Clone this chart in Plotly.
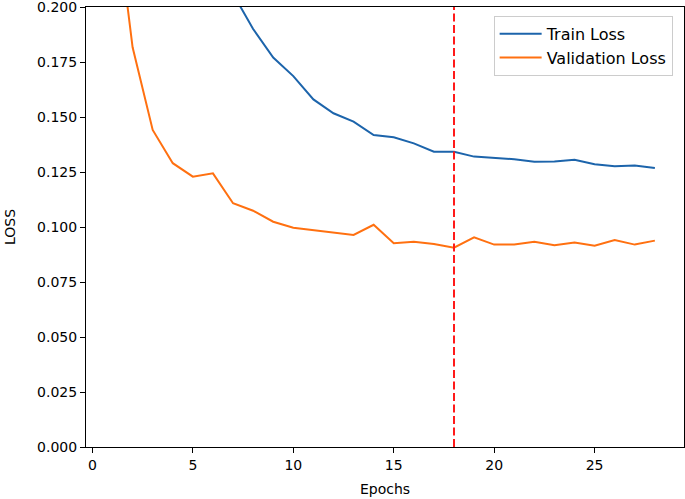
import plotly.graph_objects as go

epochs = list(range(29))
train_loss = [0.600, 0.420, 0.340, 0.290, 0.260, 0.240, 0.222, 0.206, 0.190, 0.177,
              0.1686, 0.158, 0.1517, 0.1479, 0.1418, 0.1408, 0.1380, 0.1342, 0.1342,
              0.1320, 0.1314, 0.1308, 0.1297, 0.1298, 0.1306, 0.1285, 0.1276, 0.1280, 0.1268]
val_loss = [0.480, 0.255, 0.1817, 0.1441, 0.1290, 0.1229, 0.1244, 0.1108, 0.1074, 0.1024,
            0.0997, 0.0986, 0.0975, 0.0964, 0.1010, 0.0926, 0.0933, 0.0923, 0.0906,
            0.0953, 0.0920, 0.0921, 0.0933, 0.0917, 0.0929, 0.0915, 0.0941, 0.0920, 0.0938]
best_epoch = 18
y_ticks = [0.0, 0.025, 0.05, 0.075, 0.1, 0.125, 0.15, 0.175, 0.2]
x_ticks = [0, 5, 10, 15, 20, 25]

font = "DejaVu Sans"
fig = go.Figure()
fig.add_trace(go.Scatter(x=epochs, y=train_loss, mode="lines", name="Train Loss",
                         line=dict(color="#1c64ab", width=2)))
fig.add_trace(go.Scatter(x=epochs, y=val_loss, mode="lines", name="Validation Loss",
                         line=dict(color="#ff7010", width=2)))
fig.add_shape(type="line", x0=best_epoch, x1=best_epoch, xref="x", yref="paper", y0=0, y1=1,
              line=dict(color="#ff1a1a", width=2, dash="8px,3.5px"))

fig.add_annotation(text="Epochs", xref="paper", yref="paper", x=0.5, y=0,
                   xanchor="center", yanchor="top", yshift=-32, showarrow=False,
                   font=dict(size=14, family=font))
fig.add_annotation(text="LOSS", xref="paper", yref="paper", x=0, y=0.5,
                   xanchor="right", yanchor="middle", xshift=-66, textangle=-90, showarrow=False,
                   font=dict(size=14, family=font))

fig.update_layout(
    width=685, height=499,
    margin=dict(l=86, r=1, t=7, b=52),
    plot_bgcolor="white", paper_bgcolor="white",
    font=dict(family=font, size=14, color="black"),
    showlegend=True,
    legend=dict(x=0.981, y=0.98, xanchor="right", yanchor="top",
                bgcolor="white", bordercolor="#cccccc", borderwidth=1, itemwidth=42,
                font=dict(size=16, family=font), tracegroupgap=0),
    xaxis=dict(range=[-0.32, 29.45], tickvals=x_ticks, showgrid=False, zeroline=False,
               showline=True, linecolor="black", linewidth=1, mirror=True,
               ticks="outside", ticklen=5, tickcolor="black", automargin=False),
    yaxis=dict(range=[0, 0.2], tickvals=y_ticks, tickformat=".3f", showgrid=False, zeroline=False,
               showline=True, linecolor="black", linewidth=1, mirror=True,
               ticks="outside", ticklen=5, tickcolor="black", automargin=False,
               ticklabeloverflow="allow"),
)
fig.write_html("out.html", config={"displayModeBar": False},
               post_script="document.body.style.margin='0';document.body.style.overflow='hidden';")
